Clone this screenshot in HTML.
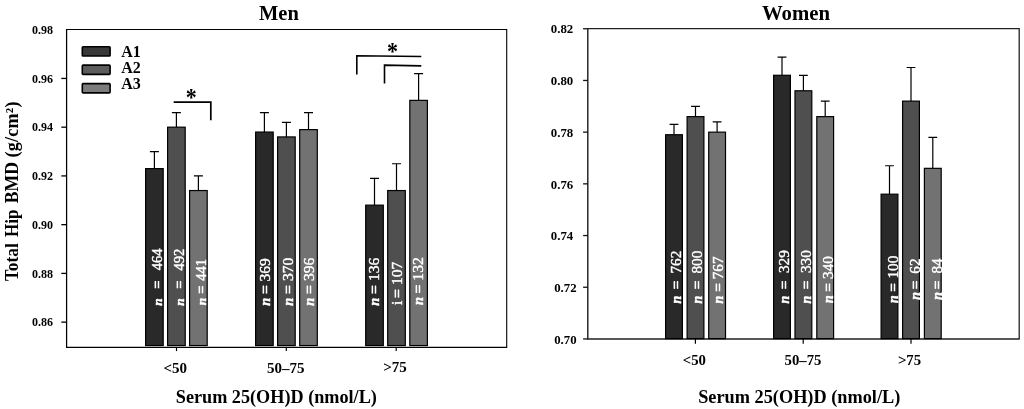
<!DOCTYPE html>
<html lang="en">
<head>
<meta charset="utf-8">
<title>Total Hip BMD by Serum 25(OH)D</title>
<style>
html,body{margin:0;padding:0;background:#fff;}
body{width:1024px;height:409px;overflow:hidden;}
svg{display:block;}
svg text{font-family:"Liberation Serif", "DejaVu Serif", serif;fill:#000;}
svg text[fill="#fff"], svg text[fill="#fff"] tspan{fill:#fff;}
</style>
</head>
<body>
<svg width="1024" height="409" viewBox="0 0 1024 409">
<rect x="0" y="0" width="1024" height="409" fill="#fff"/>
<path d="M66.6,29.5 H506.7 V347.25" fill="none" stroke="#000" stroke-width="1.1"/>
<path d="M66.6,29.0 V347.25 H507.2" fill="none" stroke="#000" stroke-width="1.25"/>
<path d="M61.30,78.44 H66.60" stroke="#000" stroke-width="1.3"/>
<path d="M61.30,127.18 H66.60" stroke="#000" stroke-width="1.3"/>
<path d="M61.30,175.92 H66.60" stroke="#000" stroke-width="1.3"/>
<path d="M61.30,224.66 H66.60" stroke="#000" stroke-width="1.3"/>
<path d="M61.30,273.40 H66.60" stroke="#000" stroke-width="1.3"/>
<path d="M61.30,322.14 H66.60" stroke="#000" stroke-width="1.3"/>
<text x="53" y="34.00" font-size="12" font-weight="bold" text-anchor="end">0.98</text>
<text x="53" y="82.74" font-size="12" font-weight="bold" text-anchor="end">0.96</text>
<text x="53" y="131.48" font-size="12" font-weight="bold" text-anchor="end">0.94</text>
<text x="53" y="180.22" font-size="12" font-weight="bold" text-anchor="end">0.92</text>
<text x="53" y="228.96" font-size="12" font-weight="bold" text-anchor="end">0.90</text>
<text x="53" y="277.70" font-size="12" font-weight="bold" text-anchor="end">0.88</text>
<text x="53" y="326.44" font-size="12" font-weight="bold" text-anchor="end">0.86</text>
<path d="M176.5,347.25 V351.05" stroke="#000" stroke-width="1.2"/>
<path d="M286.3,347.25 V351.05" stroke="#000" stroke-width="1.2"/>
<path d="M396.2,347.25 V351.05" stroke="#000" stroke-width="1.2"/>
<path d="M154.40,168.61 V151.55 M149.90,151.55 H158.90" stroke="#000" stroke-width="1.2" fill="none"/>
<rect x="145.60" y="168.61" width="17.60" height="176.94" fill="#292929" stroke="#000" stroke-width="1.2"/>
<path d="M176.40,127.18 V112.56 M171.90,112.56 H180.90" stroke="#000" stroke-width="1.2" fill="none"/>
<rect x="167.60" y="127.18" width="17.60" height="218.37" fill="#4f4f4f" stroke="#000" stroke-width="1.2"/>
<path d="M198.40,190.54 V175.92 M193.90,175.92 H202.90" stroke="#000" stroke-width="1.2" fill="none"/>
<rect x="189.60" y="190.54" width="17.60" height="155.01" fill="#727272" stroke="#000" stroke-width="1.2"/>
<path d="M264.40,132.05 V112.56 M259.90,112.56 H268.90" stroke="#000" stroke-width="1.2" fill="none"/>
<rect x="255.60" y="132.05" width="17.60" height="213.50" fill="#292929" stroke="#000" stroke-width="1.2"/>
<path d="M286.40,136.93 V122.31 M281.90,122.31 H290.90" stroke="#000" stroke-width="1.2" fill="none"/>
<rect x="277.60" y="136.93" width="17.60" height="208.62" fill="#4f4f4f" stroke="#000" stroke-width="1.2"/>
<path d="M308.50,129.62 V112.56 M304.00,112.56 H313.00" stroke="#000" stroke-width="1.2" fill="none"/>
<rect x="299.70" y="129.62" width="17.60" height="215.93" fill="#727272" stroke="#000" stroke-width="1.2"/>
<path d="M374.50,205.16 V178.36 M370.00,178.36 H379.00" stroke="#000" stroke-width="1.2" fill="none"/>
<rect x="365.70" y="205.16" width="17.60" height="140.39" fill="#292929" stroke="#000" stroke-width="1.2"/>
<path d="M396.50,190.54 V163.73 M392.00,163.73 H401.00" stroke="#000" stroke-width="1.2" fill="none"/>
<rect x="387.70" y="190.54" width="17.60" height="155.01" fill="#4f4f4f" stroke="#000" stroke-width="1.2"/>
<path d="M418.60,100.37 V73.57 M414.10,73.57 H423.10" stroke="#000" stroke-width="1.2" fill="none"/>
<rect x="409.80" y="100.37" width="17.60" height="245.18" fill="#727272" stroke="#000" stroke-width="1.2"/>
<rect x="82.3" y="46.75" width="27.8" height="9.2" rx="0.8" fill="#383838" stroke="#000" stroke-width="1.6"/>
<text x="121.3" y="56.70" font-size="16" font-weight="bold">A1</text>
<rect x="82.3" y="65.15" width="27.8" height="9.2" rx="0.8" fill="#5c5c5c" stroke="#000" stroke-width="1.6"/>
<text x="121.3" y="72.60" font-size="16" font-weight="bold">A2</text>
<rect x="82.3" y="83.65" width="27.8" height="9.2" rx="0.8" fill="#7c7c7c" stroke="#000" stroke-width="1.6"/>
<text x="121.3" y="89.00" font-size="16" font-weight="bold">A3</text>
<path d="M173.7,102.1 H210.8 V120.3" fill="none" stroke="#000" stroke-width="1.7"/>
<text transform="translate(191.3,100.1) scale(1,1.14)" y="5.4" font-size="22" font-weight="bold" text-anchor="middle">*</text>
<path d="M356.8,74.4 V55.7 L421.3,56.5" fill="none" stroke="#000" stroke-width="1.6"/>
<path d="M384.5,83.5 V65.1 L421.3,65.9" fill="none" stroke="#000" stroke-width="1.6"/>
<text transform="translate(392.55,54.3) scale(1,1.14)" y="5.4" font-size="22" font-weight="bold" text-anchor="middle">*</text>
<text x="259" y="20" font-size="20.5" font-weight="bold">Men</text>
<text x="175.8" y="403.3" font-size="18.2" font-weight="bold">Serum 25(OH)D (nmol/L)</text>
<text transform="translate(17.8,281.1) rotate(-90)" font-size="18.1" font-weight="bold"><tspan x="0" y="0" textLength="37.8" lengthAdjust="spacingAndGlyphs">Total</tspan> <tspan x="44.0" y="0" textLength="27.6" lengthAdjust="spacingAndGlyphs">Hip</tspan> <tspan x="77.8" y="0" textLength="41.2" lengthAdjust="spacingAndGlyphs">BMD</tspan> <tspan x="123.7" y="0" letter-spacing="0.2">(g/cm²)</tspan></text>
<text transform="translate(175.3,372.7) scale(0.97,1)" font-size="15.5" font-weight="bold" text-anchor="middle">&lt;50</text>
<text transform="translate(285.8,372.5) scale(0.97,1)" font-size="15.5" font-weight="bold" text-anchor="middle">50–75</text>
<text transform="translate(395.0,372.3) scale(0.97,1)" font-size="15.5" font-weight="bold" text-anchor="middle">&gt;75</text>
<text transform="translate(162.10,0) rotate(-90)" font-size="14.6" fill="#fff" stroke="#fff" stroke-linejoin="round"><tspan x="-305.77" y="0" font-size="13.43" stroke-width="0.4" font-style="italic" font-weight="bold">n</tspan> <tspan x="-288.73" y="0" stroke-width="0.7">=</tspan> <tspan x="-270.22" y="0" font-size="14.6" stroke-width="0.4">464</tspan></text>
<text transform="translate(183.80,0) rotate(-90)" font-size="14.6" fill="#fff" stroke="#fff" stroke-linejoin="round"><tspan x="-305.77" y="0" font-size="13.43" stroke-width="0.4" font-style="italic" font-weight="bold">n</tspan> <tspan x="-288.73" y="0" stroke-width="0.7">=</tspan> <tspan x="-270.52" y="0" font-size="14.6" stroke-width="0.4">492</tspan></text>
<text transform="translate(205.70,0) rotate(-90)" font-size="14.6" fill="#fff" stroke="#fff" stroke-linejoin="round"><tspan x="-305.27" y="0" font-size="13.43" stroke-width="0.4" font-style="italic" font-weight="bold">n</tspan> <tspan x="-293.73" y="0" stroke-width="0.7">=</tspan> <tspan x="-280.82" y="0" font-size="14.6" stroke-width="0.4">441</tspan></text>
<text transform="translate(269.70,0) rotate(-90)" font-size="15.6" fill="#fff" stroke="#fff" stroke-linejoin="round"><tspan x="-305.79" y="0" font-size="14.35" stroke-width="0.4" font-style="italic" font-weight="bold">n</tspan> <tspan x="-293.88" y="0" stroke-width="0.7">=</tspan> <tspan x="-281.62" y="0" font-size="15.6" stroke-width="0.4">369</tspan></text>
<text transform="translate(292.90,0) rotate(-90)" font-size="15.6" fill="#fff" stroke="#fff" stroke-linejoin="round"><tspan x="-305.79" y="0" font-size="14.35" stroke-width="0.4" font-style="italic" font-weight="bold">n</tspan> <tspan x="-293.88" y="0" stroke-width="0.7">=</tspan> <tspan x="-281.12" y="0" font-size="15.6" stroke-width="0.4">370</tspan></text>
<text transform="translate(313.80,0) rotate(-90)" font-size="15.6" fill="#fff" stroke="#fff" stroke-linejoin="round"><tspan x="-305.79" y="0" font-size="14.35" stroke-width="0.4" font-style="italic" font-weight="bold">n</tspan> <tspan x="-293.88" y="0" stroke-width="0.7">=</tspan> <tspan x="-281.12" y="0" font-size="15.6" stroke-width="0.4">396</tspan></text>
<text transform="translate(379.10,0) rotate(-90)" font-size="15.6" fill="#fff" stroke="#fff" stroke-linejoin="round"><tspan x="-305.79" y="0" font-size="14.35" stroke-width="0.4" font-style="italic" font-weight="bold">n</tspan> <tspan x="-293.88" y="0" stroke-width="0.7">=</tspan> <tspan x="-281.05" y="0" font-size="15.6" stroke-width="0.4">136</tspan></text>
<text transform="translate(402.20,0) rotate(-90)" font-size="15.6" fill="#fff" stroke="#fff" stroke-linejoin="round"><tspan x="-305.11" y="0" font-size="15.6" stroke-width="0.4" >i</tspan> <tspan x="-298.08" y="0" stroke-width="0.7">=</tspan> <tspan x="-285.05" y="0" font-size="15.6" stroke-width="0.4">107</tspan></text>
<text transform="translate(423.10,0) rotate(-90)" font-size="15.6" fill="#fff" stroke="#fff" stroke-linejoin="round"><tspan x="-305.09" y="0" font-size="14.35" stroke-width="0.4" font-style="italic" font-weight="bold">n</tspan> <tspan x="-293.38" y="0" stroke-width="0.7">=</tspan> <tspan x="-280.65" y="0" font-size="15.6" stroke-width="0.4">132</tspan></text>
<path d="M587.8,28.7 H1019.2 V339.0" fill="none" stroke="#222" stroke-width="1.3"/>
<path d="M587.8,28.2 V339.0 H1019.7" fill="none" stroke="#222" stroke-width="1.45"/>
<path d="M583.10,28.75 H587.80" stroke="#111" stroke-width="1.3"/>
<text x="573.2" y="33.45" font-size="12.8" font-weight="bold" text-anchor="end">0.82</text>
<path d="M583.10,80.45 H587.80" stroke="#111" stroke-width="1.3"/>
<text x="573.2" y="85.15" font-size="12.8" font-weight="bold" text-anchor="end">0.80</text>
<path d="M583.10,132.15 H587.80" stroke="#111" stroke-width="1.3"/>
<text x="573.2" y="136.85" font-size="12.8" font-weight="bold" text-anchor="end">0.78</text>
<path d="M583.10,183.85 H587.80" stroke="#111" stroke-width="1.3"/>
<text x="573.2" y="188.55" font-size="12.8" font-weight="bold" text-anchor="end">0.76</text>
<path d="M583.10,235.55 H587.80" stroke="#111" stroke-width="1.3"/>
<text x="573.2" y="240.25" font-size="12.8" font-weight="bold" text-anchor="end">0.74</text>
<path d="M583.10,287.25 H587.80" stroke="#111" stroke-width="1.3"/>
<text x="576.6" y="291.95" font-size="12.8" font-weight="bold" text-anchor="end">0.72</text>
<path d="M583.10,338.95 H587.80" stroke="#111" stroke-width="1.3"/>
<text x="576.6" y="343.65" font-size="12.8" font-weight="bold" text-anchor="end">0.70</text>
<path d="M695.4,339.0 V343.7" stroke="#000" stroke-width="1.2"/>
<path d="M803.2,339.0 V343.7" stroke="#000" stroke-width="1.2"/>
<path d="M911.0,339.0 V343.7" stroke="#000" stroke-width="1.2"/>
<path d="M674.00,134.73 V124.39 M669.60,124.39 H678.40" stroke="#000" stroke-width="1.2" fill="none"/>
<rect x="665.60" y="134.73" width="16.80" height="203.87" fill="#292929" stroke="#000" stroke-width="1.2"/>
<path d="M695.50,116.64 V106.30 M691.10,106.30 H699.90" stroke="#000" stroke-width="1.2" fill="none"/>
<rect x="687.10" y="116.64" width="16.80" height="221.96" fill="#4f4f4f" stroke="#000" stroke-width="1.2"/>
<path d="M717.10,132.15 V121.81 M712.70,121.81 H721.50" stroke="#000" stroke-width="1.2" fill="none"/>
<rect x="708.70" y="132.15" width="16.80" height="206.45" fill="#727272" stroke="#000" stroke-width="1.2"/>
<path d="M782.00,75.28 V57.18 M777.60,57.18 H786.40" stroke="#000" stroke-width="1.2" fill="none"/>
<rect x="773.60" y="75.28" width="16.80" height="263.32" fill="#292929" stroke="#000" stroke-width="1.2"/>
<path d="M803.40,90.79 V75.28 M799.00,75.28 H807.80" stroke="#000" stroke-width="1.2" fill="none"/>
<rect x="795.00" y="90.79" width="16.80" height="247.81" fill="#4f4f4f" stroke="#000" stroke-width="1.2"/>
<path d="M825.20,116.64 V101.13 M820.80,101.13 H829.60" stroke="#000" stroke-width="1.2" fill="none"/>
<rect x="816.80" y="116.64" width="16.80" height="221.96" fill="#727272" stroke="#000" stroke-width="1.2"/>
<path d="M889.50,194.19 V165.75 M885.10,165.75 H893.90" stroke="#000" stroke-width="1.2" fill="none"/>
<rect x="881.10" y="194.19" width="16.80" height="144.41" fill="#292929" stroke="#000" stroke-width="1.2"/>
<path d="M911.00,101.13 V67.52 M906.60,67.52 H915.40" stroke="#000" stroke-width="1.2" fill="none"/>
<rect x="902.60" y="101.13" width="16.80" height="237.47" fill="#4f4f4f" stroke="#000" stroke-width="1.2"/>
<path d="M932.80,168.34 V137.32 M928.40,137.32 H937.20" stroke="#000" stroke-width="1.2" fill="none"/>
<rect x="924.40" y="168.34" width="16.80" height="170.26" fill="#727272" stroke="#000" stroke-width="1.2"/>
<text x="762" y="20" font-size="20.75" font-weight="bold">Women</text>
<text x="698.2" y="403.3" font-size="18.3" font-weight="bold">Serum 25(OH)D (nmol/L)</text>
<text transform="translate(694.3,365.0) scale(0.985,1)" font-size="15" font-weight="bold" text-anchor="middle">&lt;50</text>
<text transform="translate(803.0,365.0) scale(0.985,1)" font-size="15" font-weight="bold" text-anchor="middle">50–75</text>
<text transform="translate(909.5,365.0) scale(0.985,1)" font-size="15" font-weight="bold" text-anchor="middle">&gt;75</text>
<text transform="translate(681.00,0) rotate(-90)" font-size="15.2" fill="#fff" stroke="#fff" stroke-linejoin="round"><tspan x="-303.58" y="0" font-size="13.98" stroke-width="0.4" font-style="italic" font-weight="bold">n</tspan> <tspan x="-289.36" y="0" stroke-width="0.7">=</tspan> <tspan x="-273.54" y="0" font-size="15.2" stroke-width="0.4">762</tspan></text>
<text transform="translate(702.10,0) rotate(-90)" font-size="15.2" fill="#fff" stroke="#fff" stroke-linejoin="round"><tspan x="-303.58" y="0" font-size="13.98" stroke-width="0.4" font-style="italic" font-weight="bold">n</tspan> <tspan x="-289.36" y="0" stroke-width="0.7">=</tspan> <tspan x="-273.53" y="0" font-size="15.2" stroke-width="0.4">800</tspan></text>
<text transform="translate(722.50,0) rotate(-90)" font-size="15.2" fill="#fff" stroke="#fff" stroke-linejoin="round"><tspan x="-303.58" y="0" font-size="13.98" stroke-width="0.4" font-style="italic" font-weight="bold">n</tspan> <tspan x="-291.76" y="0" stroke-width="0.7">=</tspan> <tspan x="-279.24" y="0" font-size="15.2" stroke-width="0.4">767</tspan></text>
<text transform="translate(789.30,0) rotate(-90)" font-size="15.2" fill="#fff" stroke="#fff" stroke-linejoin="round"><tspan x="-303.58" y="0" font-size="13.98" stroke-width="0.4" font-style="italic" font-weight="bold">n</tspan> <tspan x="-289.16" y="0" stroke-width="0.7">=</tspan> <tspan x="-273.01" y="0" font-size="15.2" stroke-width="0.4">329</tspan></text>
<text transform="translate(810.80,0) rotate(-90)" font-size="15.2" fill="#fff" stroke="#fff" stroke-linejoin="round"><tspan x="-303.58" y="0" font-size="13.98" stroke-width="0.4" font-style="italic" font-weight="bold">n</tspan> <tspan x="-289.16" y="0" stroke-width="0.7">=</tspan> <tspan x="-273.01" y="0" font-size="15.2" stroke-width="0.4">330</tspan></text>
<text transform="translate(833.30,0) rotate(-90)" font-size="15.2" fill="#fff" stroke="#fff" stroke-linejoin="round"><tspan x="-303.08" y="0" font-size="13.98" stroke-width="0.4" font-style="italic" font-weight="bold">n</tspan> <tspan x="-291.76" y="0" stroke-width="0.7">=</tspan> <tspan x="-278.91" y="0" font-size="15.2" stroke-width="0.4">340</tspan></text>
<text transform="translate(897.80,0) rotate(-90)" font-size="15.2" fill="#fff" stroke="#fff" stroke-linejoin="round"><tspan x="-303.08" y="0" font-size="13.98" stroke-width="0.4" font-style="italic" font-weight="bold">n</tspan> <tspan x="-291.76" y="0" stroke-width="0.7">=</tspan> <tspan x="-278.52" y="0" font-size="15.2" stroke-width="0.4">100</tspan></text>
<text transform="translate(920.40,0) rotate(-90)" font-size="15.2" fill="#fff" stroke="#fff" stroke-linejoin="round"><tspan x="-299.68" y="0" font-size="13.98" stroke-width="0.4" font-style="italic" font-weight="bold">n</tspan> <tspan x="-289.36" y="0" stroke-width="0.7">=</tspan> <tspan x="-273.63" y="0" font-size="15.2" stroke-width="0.4">62</tspan></text>
<text transform="translate(942.00,0) rotate(-90)" font-size="15.2" fill="#fff" stroke="#fff" stroke-linejoin="round"><tspan x="-299.68" y="0" font-size="13.98" stroke-width="0.4" font-style="italic" font-weight="bold">n</tspan> <tspan x="-289.36" y="0" stroke-width="0.7">=</tspan> <tspan x="-273.53" y="0" font-size="15.2" stroke-width="0.4">84</tspan></text>
</svg>
</body>
</html>
